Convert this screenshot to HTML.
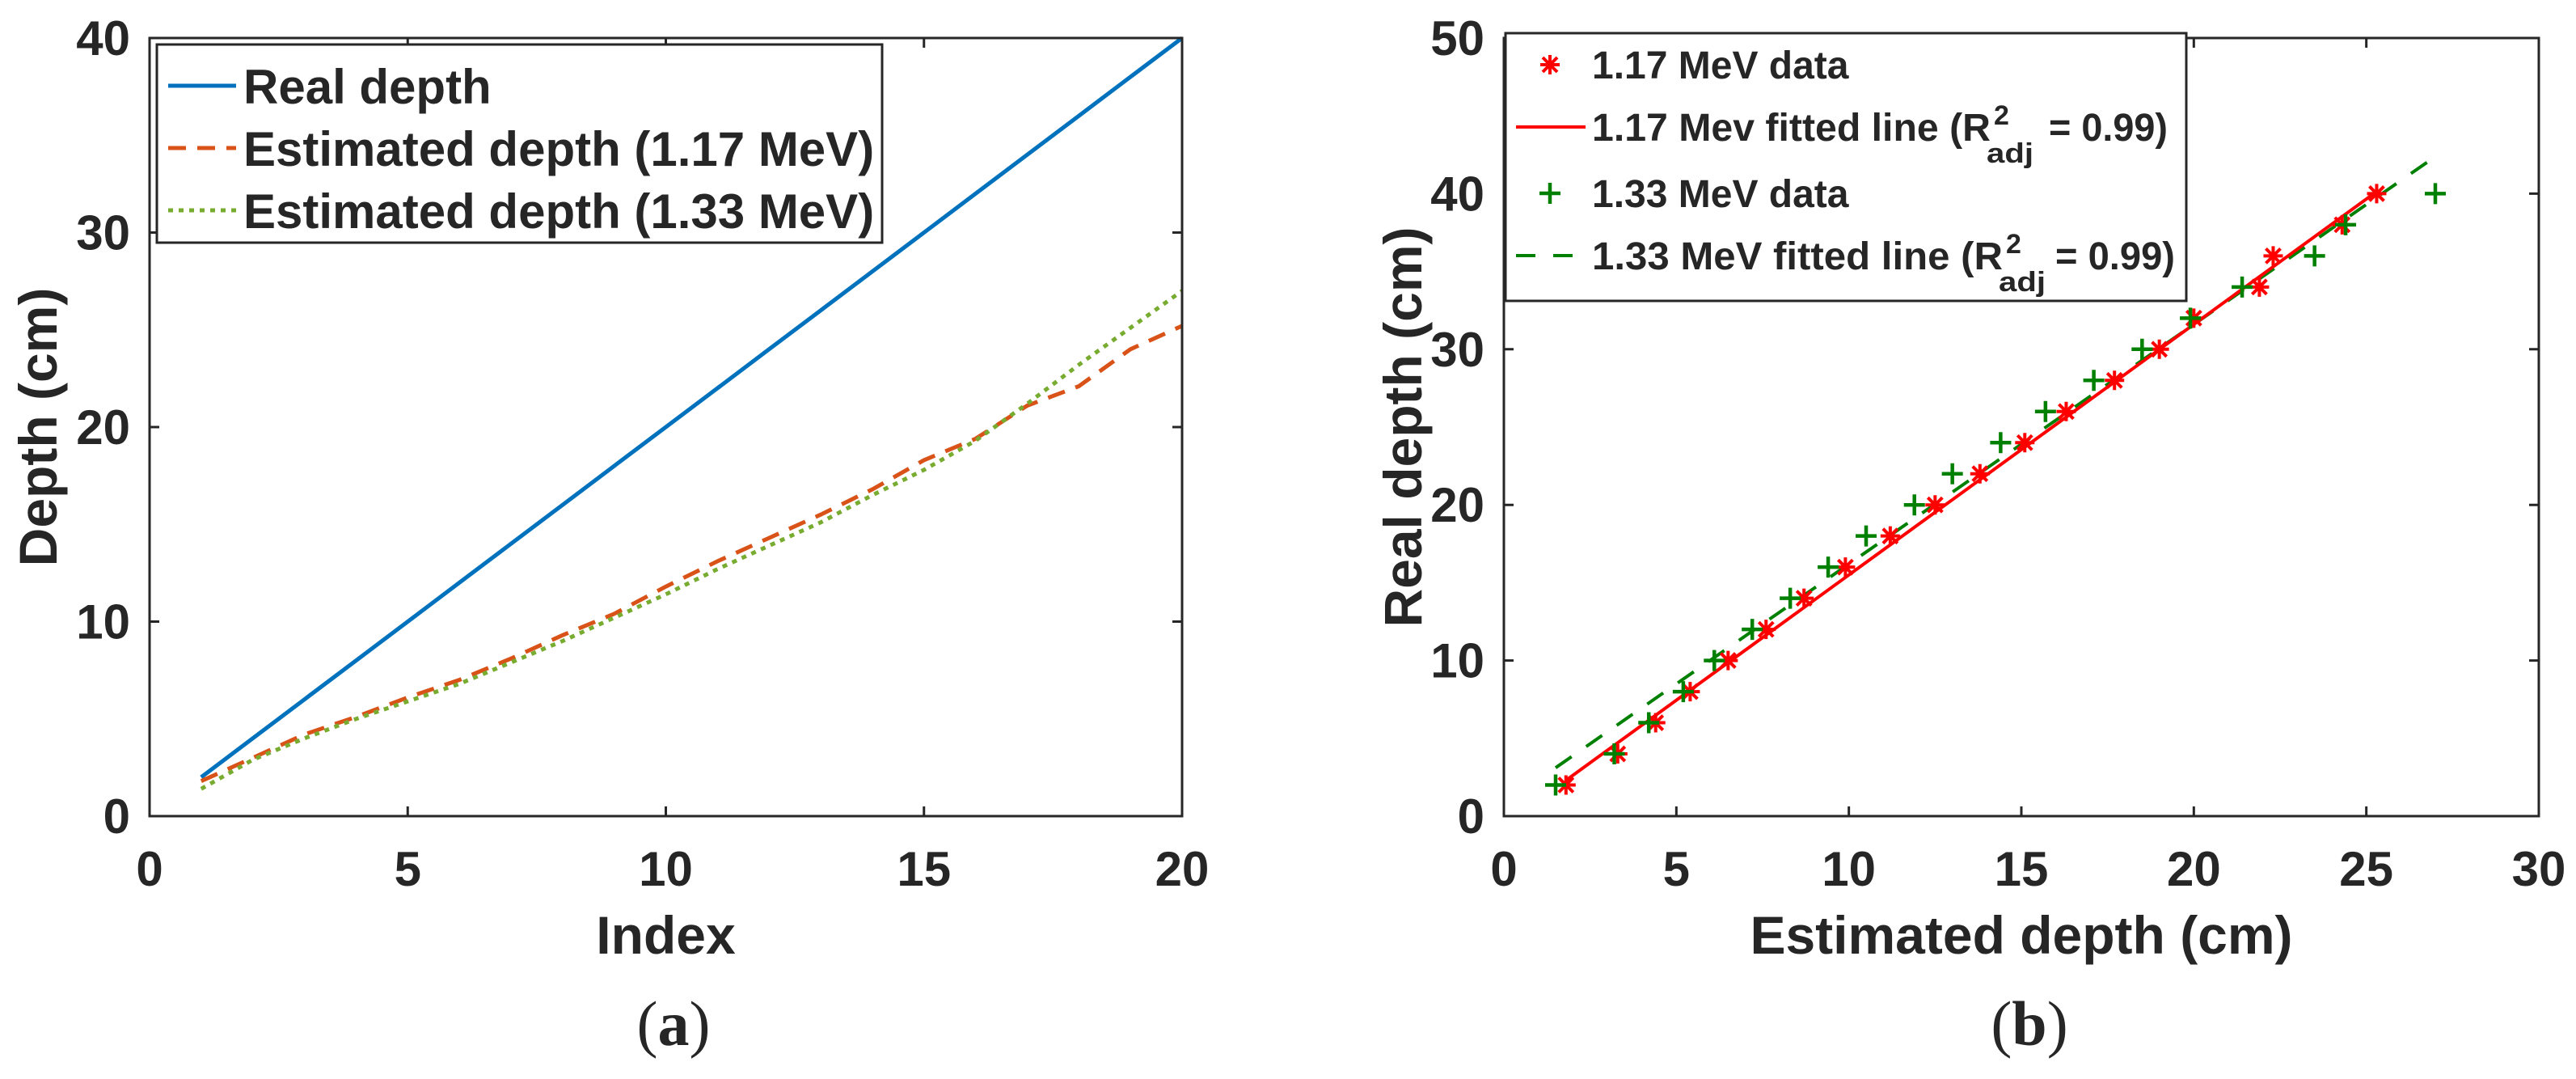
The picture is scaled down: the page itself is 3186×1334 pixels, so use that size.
<!DOCTYPE html>
<html><head><meta charset="utf-8"><style>
html,body{margin:0;padding:0;background:#fff;}
svg{display:block;}
text{font-family:"Liberation Sans",sans-serif;font-weight:bold;fill:#262626;}
</style></head><body>
<svg id="fig" width="3186" height="1334" viewBox="0 0 3186 1334" xmlns="http://www.w3.org/2000/svg">
<g id="pa"></g>
<g id="pb"></g>
</svg>
<script>
// ---- data ----
const realDepth = [2,4,6,8,10,12,14,16,18,20,22,24,26,28,30,32,34,36,38,40];
const indexVals = [1,2,3,4,5,6,7,8,9,10,11,12,13,14,15,16,17,18,19,20];
const est117 = [1.8,3.3,4.4,5.4,6.5,7.6,8.7,9.9,11.2,12.5,13.8,15.1,16.3,17.7,19.0,20.0,21.9,22.3,24.3,25.3];
const est133 = [1.5,3.2,4.2,5.2,6.1,7.2,8.3,9.4,10.5,11.9,13.0,14.4,15.7,17.1,18.5,19.9,21.4,23.5,24.4,27.0];
const est133b = [1.4,2.9,4.0,5.0,5.9,6.8,7.9,9.0,10.2,11.4,12.7,13.9,15.1,16.5,17.8,19.3,21.2,23.2,25.1,27.0];
const est117b = [1.8,3.0,4.2,5.1,6.1,7.0,8.1,9.3,10.4,11.8,13.1,14.3,15.5,16.8,18.3,19.4,21.1,22.1,24.0,25.2];
const fit117 = [1.61,-0.6];   // slope, intercept
const fit133 = [1.54,0.8];
const fit117Range = [1.8,25.3];
const fit133Range = [1.5,27.0];
const ticksAX = [0,5,10,15,20];
const ticksAY = [0,10,20,30,40];
const ticksBX = [0,5,10,15,20,25,30];
const ticksBY = [0,10,20,30,40,50];

const NS = "http://www.w3.org/2000/svg";
function mk(parent, tag, attrs, txt){
  const e = document.createElementNS(NS, tag);
  for (const k in attrs) e.setAttribute(k, attrs[k]);
  if (txt !== undefined) e.textContent = txt;
  parent.appendChild(e);
  return e;
}
function axisFns(x0,x1,xmin,xmax,y0,y1,ymin,ymax){
  return {
    sx: v => x0 + (v - xmin) / (xmax - xmin) * (x1 - x0),
    sy: v => y0 - (v - ymin) / (ymax - ymin) * (y0 - y1)
  };
}
function drawAxes(g, box, ax, xt, yt, xlab, ylab, ylabX, lblPrefix){
  const [x0,y1,x1,y0] = box;
  xt.forEach(t => {
    const x = ax.sx(t);
    const tk = mk(g,'path',{d:`M${x},${y0}v-12M${x},${y1}v12`,stroke:'#262626','stroke-width':3});
    
    
    const tl = mk(g,'text',{x:x,y:1095,'font-size':60,'text-anchor':'middle'}, String(t));
    
    
  });
  yt.forEach(t => {
    const y = ax.sy(t);
    const tk = mk(g,'path',{d:`M${x0},${y}h12M${x1},${y}h-12`,stroke:'#262626','stroke-width':3});
    
    
    const tl = mk(g,'text',{x:x0-24,y:y+21,'font-size':60,'text-anchor':'end'}, String(t));
    
    
  });
  const fr = mk(g,'rect',{x:x0,y:y1,width:x1-x0,height:y0-y1,fill:'none',stroke:'#262626','stroke-width':3});
  
  
  const xl = mk(g,'text',{x:(x0+x1)/2,y:1179,'font-size':66,'text-anchor':'middle'}, xlab);
  
  
  const cy = (y0+y1)/2;
  const yl = mk(g,'text',{x:ylabX,y:cy,'font-size':66,'text-anchor':'middle',transform:`rotate(-90 ${ylabX} ${cy})`}, ylab);
  
  
}
function poly(g, xs, ys, ax, attrs, name){
  const pts = xs.map((v,i)=> ax.sx(v).toFixed(1)+','+ax.sy(ys[i]).toFixed(1)).join(' ');
  const p = mk(g,'polyline',Object.assign({points:pts,fill:'none'},attrs));
  
  
  return p;
}
function star(g,x,y,c){
  const s=12;
  return mk(g,'path',{d:`M${x-s},${y}h${2*s}M${x},${y-s}v${2*s}M${x-s*0.75},${y-s*0.75}l${1.5*s},${1.5*s}M${x-s*0.75},${y+s*0.75}l${1.5*s},${-1.5*s}`,stroke:c,'stroke-width':4});
}
function plus(g,x,y,c){
  const s=13;
  return mk(g,'path',{d:`M${x-s},${y}h${2*s}M${x},${y-s}v${2*s}`,stroke:c,'stroke-width':4.5});
}

// ---- panel a ----
const pa = document.getElementById('pa');
const boxA = [185,47,1462,1009];
const axA = axisFns(185,1462,0,20,1009,47,0,40);
poly(pa, indexVals, realDepth, axA, {stroke:'#0072BD','stroke-width':5}, 'line-real-depth');
poly(pa, indexVals, est117b, axA, {stroke:'#D95319','stroke-width':5,'stroke-dasharray':'22 14'}, 'line-estimated-117');
poly(pa, indexVals, est133b, axA, {stroke:'#77AC30','stroke-width':5,'stroke-dasharray':'6 7'}, 'line-estimated-133');
drawAxes(pa, boxA, axA, ticksAX, ticksAY, 'Index', 'Depth (cm)', 70, 'panel-a');
const legA = mk(pa,'g',{});


mk(legA,'rect',{x:194,y:55,width:897,height:245,fill:'#fff',stroke:'#262626','stroke-width':3});
const legAItems = [['Real depth','#0072BD','none',106],['Estimated depth (1.17 MeV)','#D95319','22 14',183],['Estimated depth (1.33 MeV)','#77AC30','6 7',260]];
legAItems.forEach(it=>{
  const ge = mk(legA,'g',{});
  
  
  mk(ge,'line',{x1:208,x2:292,y1:it[3],y2:it[3],stroke:it[1],'stroke-width':5,'stroke-dasharray':it[2]});
  mk(ge,'text',{x:301,y:it[3]+22,'font-size':60},it[0]);
});
const capA = mk(pa,'text',{x:833,y:1292,'font-size':78,'text-anchor':'middle',style:'font-family:"Liberation Serif",serif;font-weight:normal'});


capA.innerHTML = '(<tspan font-weight="bold">a</tspan>)';

// ---- panel b ----
const pb = document.getElementById('pb');
const boxB = [1860,47,3140,1009];
const axB = axisFns(1860,3140,0,30,1009,47,0,50);
const f117 = fit117Range.map(x=>fit117[0]*x+fit117[1]);
const f133 = fit133Range.map(x=>fit133[0]*x+fit133[1]);
poly(pb, fit133Range, f133, axB, {stroke:'#008000','stroke-width':4,'stroke-dasharray':'24 22'}, 'fit-line-133');
poly(pb, fit117Range, f117, axB, {stroke:'#FF0000','stroke-width':4}, 'fit-line-117');
est117.forEach((v,i)=>{
  const m = star(pb, axB.sx(v), axB.sy(realDepth[i]), '#FF0000');
  
  
});
est133.forEach((v,i)=>{
  const m = plus(pb, axB.sx(v), axB.sy(realDepth[i]), '#008000');
  
  
});
drawAxes(pb, boxB, axB, ticksBX, ticksBY, 'Estimated depth (cm)', 'Real depth (cm)', 1758, 'panel-b');
const legB = mk(pb,'g',{});


mk(legB,'rect',{x:1862,y:41,width:842,height:331,fill:'#fff',stroke:'#262626','stroke-width':3});
const lb = [
  {t:'1.17 MeV data',y:80,kind:'star'},
  {t:'1.17 Mev fitted line (R',y:157,kind:'line',rEnd:2462,eq:[2534,2681]},
  {t:'1.33 MeV data',y:239,kind:'plus'},
  {t:'1.33 MeV fitted line (R',y:316,kind:'dash',rEnd:2477,eq:[2542,2690]}
];
lb.forEach(it=>{
  const ge = mk(legB,'g',{});
  
  
  if(it.kind==='star') star(ge,1917,it.y,'#FF0000');
  if(it.kind==='plus') plus(ge,1917,it.y,'#008000');
  if(it.kind==='line') mk(ge,'line',{x1:1875,x2:1961,y1:it.y,y2:it.y,stroke:'#FF0000','stroke-width':4});
  if(it.kind==='dash') mk(ge,'line',{x1:1875,x2:1961,y1:it.y,y2:it.y,stroke:'#008000','stroke-width':4,'stroke-dasharray':'24 22'});
  if(it.rEnd){
    mk(ge,'text',{x:1969,y:it.y+17,'font-size':48,textLength:it.rEnd-1969,lengthAdjust:'spacingAndGlyphs'},it.t);
    mk(ge,'text',{x:it.rEnd+4,y:it.y-3,'font-size':34},'2');
    mk(ge,'text',{x:it.rEnd-5,y:it.y+44,'font-size':34,textLength:58,lengthAdjust:'spacingAndGlyphs'},'adj');
    mk(ge,'text',{x:it.eq[0],y:it.y+17,'font-size':48,textLength:it.eq[1]-it.eq[0],lengthAdjust:'spacingAndGlyphs'},'= 0.99)');
  } else {
    mk(ge,'text',{x:1969,y:it.y+17,'font-size':48},it.t);
  }
});
const capB = mk(pb,'text',{x:2510,y:1292,'font-size':78,'text-anchor':'middle',style:'font-family:"Liberation Serif",serif;font-weight:normal'});


capB.innerHTML = '(<tspan font-weight="bold">b</tspan>)';
</script>
</body></html>
